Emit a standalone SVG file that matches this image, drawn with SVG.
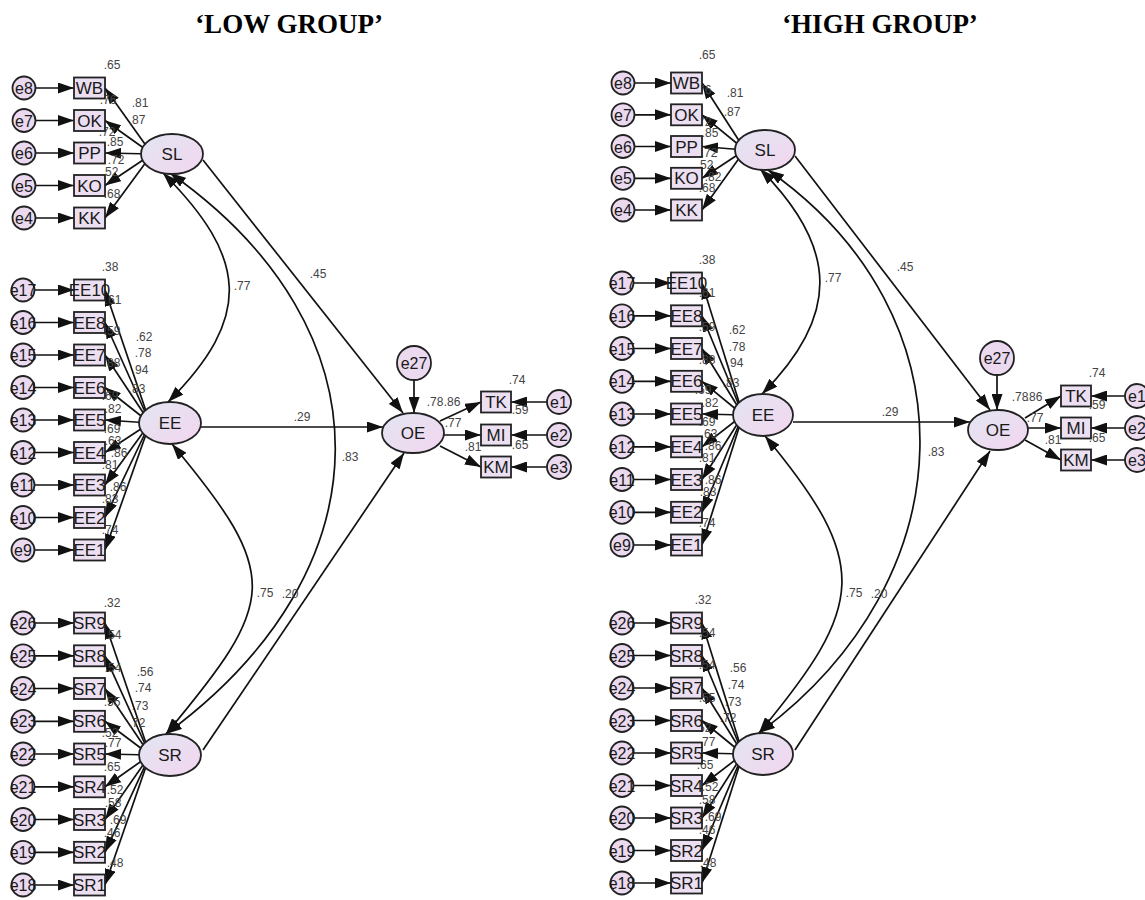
<svg xmlns="http://www.w3.org/2000/svg" width="1145" height="900" viewBox="0 0 1145 900">
<style>
.ln{stroke:#111;stroke-width:1.7;fill:none;marker-end:url(#arr)}
.cv{stroke:#111;stroke-width:1.7;fill:none;marker-start:url(#arr);marker-end:url(#arr)}
.obs{fill:#ecdff1;stroke:#222;stroke-width:1.8}
.err{fill:#ead9ef;stroke:#222;stroke-width:1.8}
.lat{fill:url(#gl);stroke:#222;stroke-width:1.8}
.tb{font-family:'Liberation Sans',Arial,sans-serif;font-size:17px;fill:#1a1a1a;text-anchor:middle}
.te{font-family:'Liberation Sans',Arial,sans-serif;font-size:16px;fill:#1a1a1a;text-anchor:middle}
.n{font-family:'Liberation Sans',Arial,sans-serif;font-size:12px;fill:#444;text-anchor:middle}
.title{font-family:'Liberation Serif','Times New Roman',serif;font-weight:bold;font-size:27px;fill:#000;text-anchor:middle}
</style>
<defs>
<marker id="arr" markerWidth="16" markerHeight="11" refX="16" refY="5.5" orient="auto-start-reverse" markerUnits="userSpaceOnUse"><path d="M0,0 L16,5.5 L0,11 z" fill="#111"/></marker>
<linearGradient id="gl" x1="0" y1="0" x2="1" y2="1"><stop offset="0" stop-color="#e2e5f1"/><stop offset="1" stop-color="#f3d6f0"/></linearGradient>
</defs>
<rect width="1145" height="900" fill="#fff"/>
<text class="title" x="289" y="33">‘LOW GROUP’</text>
<text class="title" x="880" y="33">‘HIGH GROUP’</text>

<g id="connectors">
<path class="ln" d="M35.5,88 L74,88"/><path class="ln" d="M35.5,120.5 L74,120.5"/><path class="ln" d="M35.5,153 L74,153"/><path class="ln" d="M35.5,185.5 L74,185.5"/><path class="ln" d="M35.5,218 L74,218"/>
<path class="ln" d="M35,290 L74,290"/><path class="ln" d="M35,322.5 L74,322.5"/><path class="ln" d="M35,355 L74,355"/><path class="ln" d="M35,387.5 L74,387.5"/><path class="ln" d="M35,420 L74,420"/><path class="ln" d="M35,452.5 L74,452.5"/><path class="ln" d="M35,485 L74,485"/><path class="ln" d="M35,517.5 L74,517.5"/><path class="ln" d="M35,550 L74,550"/>
<path class="ln" d="M35,623 L74,623"/><path class="ln" d="M35,655.8 L74,655.8"/><path class="ln" d="M35,688.5 L74,688.5"/><path class="ln" d="M35,721.3 L74,721.3"/><path class="ln" d="M35,754 L74,754"/><path class="ln" d="M35,786.8 L74,786.8"/><path class="ln" d="M35,819.5 L74,819.5"/><path class="ln" d="M35,852.3 L74,852.3"/><path class="ln" d="M35,885 L74,885"/>
<path class="ln" d="M152,154 L105,88"/><path class="ln" d="M152,154 L105,120.5"/><path class="ln" d="M152,154 L105,153"/><path class="ln" d="M152,154 L105,185.5"/><path class="ln" d="M152,154 L105,218"/>
<path class="ln" d="M150,423 L105,290"/><path class="ln" d="M150,423 L105,322.5"/><path class="ln" d="M150,423 L105,355"/><path class="ln" d="M150,423 L105,387.5"/><path class="ln" d="M150,423 L105,420"/><path class="ln" d="M150,423 L105,452.5"/><path class="ln" d="M150,423 L105,485"/><path class="ln" d="M150,423 L105,517.5"/><path class="ln" d="M150,423 L105,550"/>
<path class="ln" d="M150,755 L105,623"/><path class="ln" d="M150,755 L105,655.8"/><path class="ln" d="M150,755 L105,688.5"/><path class="ln" d="M150,755 L105,721.3"/><path class="ln" d="M150,755 L105,754"/><path class="ln" d="M150,755 L105,786.8"/><path class="ln" d="M150,755 L105,819.5"/><path class="ln" d="M150,755 L105,852.3"/><path class="ln" d="M150,755 L105,885"/>
<path class="ln" d="M203,160 L403,413"/>
<path class="ln" d="M201,427 L383,427"/>
<path class="ln" d="M203,750 L404,453"/>
<path class="ln" d="M414,380 L414,413"/>
<path class="cv" d="M163,173 C248,258 253,317 168,402"/>
<path class="cv" d="M170,173 C393,330 389,570 166,734"/>
<path class="cv" d="M172,444 C283,577 277,601 166,734"/>
<path class="ln" d="M440,421 L481,402"/><path class="ln" d="M444,435 L481,435"/><path class="ln" d="M440,446 L481,467"/>
<path class="ln" d="M547,402 L511,402"/><path class="ln" d="M547,435 L511,435"/><path class="ln" d="M547,467 L511,467"/>

<path class="ln" d="M634.5,83 L671,83"/><path class="ln" d="M634.5,114.8 L671,114.8"/><path class="ln" d="M634.5,146.5 L671,146.5"/><path class="ln" d="M634.5,178.3 L671,178.3"/><path class="ln" d="M634.5,210 L671,210"/>
<path class="ln" d="M634,283 L671,283"/><path class="ln" d="M634,315.8 L671,315.8"/><path class="ln" d="M634,348.5 L671,348.5"/><path class="ln" d="M634,381.3 L671,381.3"/><path class="ln" d="M634,414 L671,414"/><path class="ln" d="M634,446.8 L671,446.8"/><path class="ln" d="M634,479.5 L671,479.5"/><path class="ln" d="M634,512.3 L671,512.3"/><path class="ln" d="M634,545 L671,545"/>
<path class="ln" d="M634,623 L671,623"/><path class="ln" d="M634,655.5 L671,655.5"/><path class="ln" d="M634,688 L671,688"/><path class="ln" d="M634,720.5 L671,720.5"/><path class="ln" d="M634,753 L671,753"/><path class="ln" d="M634,785.5 L671,785.5"/><path class="ln" d="M634,818 L671,818"/><path class="ln" d="M634,850.5 L671,850.5"/><path class="ln" d="M634,883 L671,883"/>
<path class="ln" d="M745,150 L702,83"/><path class="ln" d="M745,150 L702,114.8"/><path class="ln" d="M745,150 L702,146.5"/><path class="ln" d="M745,150 L702,178.3"/><path class="ln" d="M745,150 L702,210"/>
<path class="ln" d="M743,415 L702,283"/><path class="ln" d="M743,415 L702,315.8"/><path class="ln" d="M743,415 L702,348.5"/><path class="ln" d="M743,415 L702,381.3"/><path class="ln" d="M743,415 L702,414"/><path class="ln" d="M743,415 L702,446.8"/><path class="ln" d="M743,415 L702,479.5"/><path class="ln" d="M743,415 L702,512.3"/><path class="ln" d="M743,415 L702,545"/>
<path class="ln" d="M743,754 L702,623"/><path class="ln" d="M743,754 L702,655.5"/><path class="ln" d="M743,754 L702,688"/><path class="ln" d="M743,754 L702,720.5"/><path class="ln" d="M743,754 L702,753"/><path class="ln" d="M743,754 L702,785.5"/><path class="ln" d="M743,754 L702,818"/><path class="ln" d="M743,754 L702,850.5"/><path class="ln" d="M743,754 L702,883"/>
<path class="ln" d="M795,156 L990,410"/>
<path class="ln" d="M793,422 L970,422"/>
<path class="ln" d="M795,750 L990,451"/>
<path class="ln" d="M997,375.5 L997,410"/>
<path class="cv" d="M760,169 C838.5,247.5 840.5,315.5 762,394"/>
<path class="cv" d="M768,170 C976.5,316 967.5,579 759,733"/>
<path class="cv" d="M765,436 C871.5,564 865.5,605 759,733"/>
<path class="ln" d="M1025,418 L1061,396"/><path class="ln" d="M1028,428 L1061,428"/><path class="ln" d="M1025,440 L1061,460"/>
<path class="ln" d="M1125,396 L1091,396"/><path class="ln" d="M1125,428 L1091,428"/><path class="ln" d="M1125,460 L1091,460"/>
</g>

<g id="coefficients">
<text class="n" x="318" y="278">.45</text><text class="n" x="302" y="421">.29</text><text class="n" x="290" y="598">.20</text>
<text class="n" x="242" y="290">.77</text><text class="n" x="350" y="461">.83</text><text class="n" x="265" y="597">.75</text>
<text class="n" x="112" y="69">.65</text><text class="n" x="140" y="107">.81</text><text class="n" x="137" y="124">.87</text><text class="n" x="108" y="104">.76</text><text class="n" x="115" y="146">.85</text><text class="n" x="107" y="136">.72</text><text class="n" x="116" y="164">.72</text><text class="n" x="110" y="176">.52</text><text class="n" x="112" y="198">.68</text>
<text class="n" x="110" y="271">.38</text><text class="n" x="113" y="304">.61</text><text class="n" x="112" y="335">.59</text><text class="n" x="112" y="367">.88</text><text class="n" x="110" y="400">.69</text>
<text class="n" x="144" y="341">.62</text><text class="n" x="143" y="357">.78</text><text class="n" x="140" y="374">.94</text><text class="n" x="137" y="393">.83</text>
<text class="n" x="113" y="413">.82</text><text class="n" x="112" y="433">.69</text><text class="n" x="113" y="445">.63</text><text class="n" x="119" y="457">.86</text><text class="n" x="110" y="469">.81</text><text class="n" x="118" y="491">.86</text><text class="n" x="110" y="503">.83</text><text class="n" x="110" y="534">.74</text>
<text class="n" x="112" y="607">.32</text><text class="n" x="113" y="639">.54</text><text class="n" x="113" y="672">.54</text><text class="n" x="112" y="706">.55</text><text class="n" x="110" y="737">.52</text>
<text class="n" x="145" y="676">.56</text><text class="n" x="143" y="692">.74</text><text class="n" x="140" y="710">.73</text><text class="n" x="137" y="727">.72</text>
<text class="n" x="113" y="747">.77</text><text class="n" x="112" y="771">.65</text><text class="n" x="115" y="794">.52</text><text class="n" x="113" y="807">.58</text><text class="n" x="118" y="824">.69</text><text class="n" x="112" y="837">.46</text><text class="n" x="115" y="867">.48</text>
<text class="n" x="517" y="384">.74</text><text class="n" x="520" y="414">.59</text><text class="n" x="453" y="427">.77</text><text class="n" x="473" y="451">.81</text><text class="n" x="520" y="449">.65</text><text class="n" x="435" y="406">.78</text><text class="n" x="452" y="406">.86</text>

<text class="n" x="905" y="271">.45</text><text class="n" x="890" y="416">.29</text><text class="n" x="879" y="598">.20</text>
<text class="n" x="833" y="282">.77</text><text class="n" x="936" y="456">.83</text><text class="n" x="854" y="597">.75</text>
<text class="n" x="707" y="59">.65</text><text class="n" x="735" y="97">.81</text><text class="n" x="732" y="116">.87</text><text class="n" x="703" y="94">.76</text><text class="n" x="710" y="137">.85</text><text class="n" x="703" y="126">.72</text><text class="n" x="709" y="157">.72</text><text class="n" x="705" y="169">.52</text><text class="n" x="713" y="181">.82</text><text class="n" x="707" y="192">.68</text>
<text class="n" x="707" y="264">.38</text><text class="n" x="707" y="297">.61</text><text class="n" x="707" y="331">.59</text><text class="n" x="707" y="364">.88</text><text class="n" x="703" y="394">.69</text>
<text class="n" x="737" y="334">.62</text><text class="n" x="737" y="351">.78</text><text class="n" x="735" y="367">.94</text><text class="n" x="731" y="387">.83</text>
<text class="n" x="710" y="407">.82</text><text class="n" x="707" y="426">.69</text><text class="n" x="709" y="438">.63</text><text class="n" x="713" y="450">.86</text><text class="n" x="707" y="462">.81</text><text class="n" x="713" y="484">.86</text><text class="n" x="708" y="496">.83</text><text class="n" x="707" y="527">.74</text>
<text class="n" x="703" y="604">.32</text><text class="n" x="707" y="637">.54</text><text class="n" x="707" y="669">.54</text><text class="n" x="707" y="702">.55</text><text class="n" x="703" y="732">.52</text>
<text class="n" x="738" y="672">.56</text><text class="n" x="736" y="689">.74</text><text class="n" x="733" y="706">.73</text><text class="n" x="728" y="722">.72</text>
<text class="n" x="707" y="746">.77</text><text class="n" x="705" y="769">.65</text><text class="n" x="710" y="791">.52</text><text class="n" x="707" y="804">.58</text><text class="n" x="713" y="821">.69</text><text class="n" x="707" y="834">.46</text><text class="n" x="708" y="867">.48</text>
<text class="n" x="1097" y="377">.74</text><text class="n" x="1097" y="409">.59</text><text class="n" x="1035" y="422">.77</text><text class="n" x="1053" y="444">.81</text><text class="n" x="1097" y="442">.65</text><text class="n" x="1020" y="401">.78</text><text class="n" x="1034" y="401">.86</text>
</g>

<g id="L_SL"><ellipse cx="172" cy="154" rx="31" ry="20" class="lat"/><text class="tb" x="172" y="160">SL</text></g>
<g id="L_EE"><ellipse cx="170" cy="423" rx="31" ry="21" class="lat"/><text class="tb" x="170" y="429">EE</text></g>
<g id="L_SR"><ellipse cx="170" cy="755" rx="31" ry="21" class="lat"/><text class="tb" x="170" y="761">SR</text></g>
<g id="L_OE"><ellipse cx="413" cy="433" rx="31" ry="20" class="lat"/><text class="tb" x="413" y="439">OE</text></g>
<g id="L_e27"><circle cx="414" cy="363" r="17" class="err"/><text class="te" x="414" y="369">e27</text></g>

<g id="L_WB"><rect x="74" y="77.5" width="31" height="21" class="obs"/><text class="tb" x="89.5" y="94">WB</text></g>
<g id="L_OK"><rect x="74" y="110" width="31" height="21" class="obs"/><text class="tb" x="89.5" y="126.5">OK</text></g>
<g id="L_PP"><rect x="74" y="142.5" width="31" height="21" class="obs"/><text class="tb" x="89.5" y="159">PP</text></g>
<g id="L_KO"><rect x="74" y="175" width="31" height="21" class="obs"/><text class="tb" x="89.5" y="191.5">KO</text></g>
<g id="L_KK"><rect x="74" y="207.5" width="31" height="21" class="obs"/><text class="tb" x="89.5" y="224">KK</text></g>
<g id="L_e8"><circle cx="24" cy="88" r="11.5" class="err"/><text class="te" x="24" y="94">e8</text></g>
<g id="L_e7"><circle cx="24" cy="120.5" r="11.5" class="err"/><text class="te" x="24" y="126.5">e7</text></g>
<g id="L_e6"><circle cx="24" cy="153" r="11.5" class="err"/><text class="te" x="24" y="159">e6</text></g>
<g id="L_e5"><circle cx="24" cy="185.5" r="11.5" class="err"/><text class="te" x="24" y="191.5">e5</text></g>
<g id="L_e4"><circle cx="24" cy="218" r="11.5" class="err"/><text class="te" x="24" y="224">e4</text></g>

<g id="L_EE10"><rect x="74" y="279.5" width="31" height="21" class="obs"/><text class="tb" x="89.5" y="296">EE10</text></g>
<g id="L_EE8"><rect x="74" y="312" width="31" height="21" class="obs"/><text class="tb" x="89.5" y="328.5">EE8</text></g>
<g id="L_EE7"><rect x="74" y="344.5" width="31" height="21" class="obs"/><text class="tb" x="89.5" y="361">EE7</text></g>
<g id="L_EE6"><rect x="74" y="377" width="31" height="21" class="obs"/><text class="tb" x="89.5" y="393.5">EE6</text></g>
<g id="L_EE5"><rect x="74" y="409.5" width="31" height="21" class="obs"/><text class="tb" x="89.5" y="426">EE5</text></g>
<g id="L_EE4"><rect x="74" y="442" width="31" height="21" class="obs"/><text class="tb" x="89.5" y="458.5">EE4</text></g>
<g id="L_EE3"><rect x="74" y="474.5" width="31" height="21" class="obs"/><text class="tb" x="89.5" y="491">EE3</text></g>
<g id="L_EE2"><rect x="74" y="507" width="31" height="21" class="obs"/><text class="tb" x="89.5" y="523.5">EE2</text></g>
<g id="L_EE1"><rect x="74" y="539.5" width="31" height="21" class="obs"/><text class="tb" x="89.5" y="556">EE1</text></g>
<g id="L_e17"><circle cx="23" cy="290" r="11.5" class="err"/><text class="te" x="23" y="296">e17</text></g>
<g id="L_e16"><circle cx="23" cy="322.5" r="11.5" class="err"/><text class="te" x="23" y="328.5">e16</text></g>
<g id="L_e15"><circle cx="23" cy="355" r="11.5" class="err"/><text class="te" x="23" y="361">e15</text></g>
<g id="L_e14"><circle cx="23" cy="387.5" r="11.5" class="err"/><text class="te" x="23" y="393.5">e14</text></g>
<g id="L_e13"><circle cx="23" cy="420" r="11.5" class="err"/><text class="te" x="23" y="426">e13</text></g>
<g id="L_e12"><circle cx="23" cy="452.5" r="11.5" class="err"/><text class="te" x="23" y="458.5">e12</text></g>
<g id="L_e11"><circle cx="23" cy="485" r="11.5" class="err"/><text class="te" x="23" y="491">e11</text></g>
<g id="L_e10"><circle cx="23" cy="517.5" r="11.5" class="err"/><text class="te" x="23" y="523.5">e10</text></g>
<g id="L_e9"><circle cx="23" cy="550" r="11.5" class="err"/><text class="te" x="23" y="556">e9</text></g>

<g id="L_SR9"><rect x="74" y="612.5" width="31" height="21" class="obs"/><text class="tb" x="89.5" y="629">SR9</text></g>
<g id="L_SR8"><rect x="74" y="645.3" width="31" height="21" class="obs"/><text class="tb" x="89.5" y="661.8">SR8</text></g>
<g id="L_SR7"><rect x="74" y="678" width="31" height="21" class="obs"/><text class="tb" x="89.5" y="694.5">SR7</text></g>
<g id="L_SR6"><rect x="74" y="710.8" width="31" height="21" class="obs"/><text class="tb" x="89.5" y="727.3">SR6</text></g>
<g id="L_SR5"><rect x="74" y="743.5" width="31" height="21" class="obs"/><text class="tb" x="89.5" y="760">SR5</text></g>
<g id="L_SR4"><rect x="74" y="776.3" width="31" height="21" class="obs"/><text class="tb" x="89.5" y="792.8">SR4</text></g>
<g id="L_SR3"><rect x="74" y="809" width="31" height="21" class="obs"/><text class="tb" x="89.5" y="825.5">SR3</text></g>
<g id="L_SR2"><rect x="74" y="841.8" width="31" height="21" class="obs"/><text class="tb" x="89.5" y="858.3">SR2</text></g>
<g id="L_SR1"><rect x="74" y="874.5" width="31" height="21" class="obs"/><text class="tb" x="89.5" y="891">SR1</text></g>
<g id="L_e26"><circle cx="23" cy="623" r="11.5" class="err"/><text class="te" x="23" y="629">e26</text></g>
<g id="L_e25"><circle cx="23" cy="655.8" r="11.5" class="err"/><text class="te" x="23" y="661.8">e25</text></g>
<g id="L_e24"><circle cx="23" cy="688.5" r="11.5" class="err"/><text class="te" x="23" y="694.5">e24</text></g>
<g id="L_e23"><circle cx="23" cy="721.3" r="11.5" class="err"/><text class="te" x="23" y="727.3">e23</text></g>
<g id="L_e22"><circle cx="23" cy="754" r="11.5" class="err"/><text class="te" x="23" y="760">e22</text></g>
<g id="L_e21"><circle cx="23" cy="786.8" r="11.5" class="err"/><text class="te" x="23" y="792.8">e21</text></g>
<g id="L_e20"><circle cx="23" cy="819.5" r="11.5" class="err"/><text class="te" x="23" y="825.5">e20</text></g>
<g id="L_e19"><circle cx="23" cy="852.3" r="11.5" class="err"/><text class="te" x="23" y="858.3">e19</text></g>
<g id="L_e18"><circle cx="23" cy="885" r="11.5" class="err"/><text class="te" x="23" y="891">e18</text></g>

<g id="L_TK"><rect x="481" y="391.5" width="30" height="21" class="obs"/><text class="tb" x="496" y="408">TK</text></g>
<g id="L_MI"><rect x="481" y="424.5" width="30" height="21" class="obs"/><text class="tb" x="496" y="441">MI</text></g>
<g id="L_KM"><rect x="481" y="456.5" width="30" height="21" class="obs"/><text class="tb" x="496" y="473">KM</text></g>
<g id="L_e1"><circle cx="559" cy="402" r="12" class="err"/><text class="te" x="559" y="408">e1</text></g>
<g id="L_e2"><circle cx="559" cy="435" r="12" class="err"/><text class="te" x="559" y="441">e2</text></g>
<g id="L_e3"><circle cx="559" cy="467" r="12" class="err"/><text class="te" x="559" y="473">e3</text></g>

<g id="H_SL"><ellipse cx="765" cy="150" rx="30" ry="20" class="lat"/><text class="tb" x="765" y="156">SL</text></g>
<g id="H_EE"><ellipse cx="763" cy="415" rx="30" ry="21" class="lat"/><text class="tb" x="763" y="421">EE</text></g>
<g id="H_SR"><ellipse cx="763" cy="754" rx="30" ry="21" class="lat"/><text class="tb" x="763" y="760">SR</text></g>
<g id="H_OE"><ellipse cx="998" cy="430" rx="30" ry="20" class="lat"/><text class="tb" x="998" y="436">OE</text></g>
<g id="H_e27"><circle cx="997" cy="358" r="17" class="err"/><text class="te" x="997" y="364">e27</text></g>

<g id="H_WB"><rect x="671" y="72.5" width="31" height="21" class="obs"/><text class="tb" x="686.5" y="89">WB</text></g>
<g id="H_OK"><rect x="671" y="104.3" width="31" height="21" class="obs"/><text class="tb" x="686.5" y="120.8">OK</text></g>
<g id="H_PP"><rect x="671" y="136" width="31" height="21" class="obs"/><text class="tb" x="686.5" y="152.5">PP</text></g>
<g id="H_KO"><rect x="671" y="167.8" width="31" height="21" class="obs"/><text class="tb" x="686.5" y="184.3">KO</text></g>
<g id="H_KK"><rect x="671" y="199.5" width="31" height="21" class="obs"/><text class="tb" x="686.5" y="216">KK</text></g>
<g id="H_e8"><circle cx="623" cy="83" r="11.5" class="err"/><text class="te" x="623" y="89">e8</text></g>
<g id="H_e7"><circle cx="623" cy="114.8" r="11.5" class="err"/><text class="te" x="623" y="120.8">e7</text></g>
<g id="H_e6"><circle cx="623" cy="146.5" r="11.5" class="err"/><text class="te" x="623" y="152.5">e6</text></g>
<g id="H_e5"><circle cx="623" cy="178.3" r="11.5" class="err"/><text class="te" x="623" y="184.3">e5</text></g>
<g id="H_e4"><circle cx="623" cy="210" r="11.5" class="err"/><text class="te" x="623" y="216">e4</text></g>

<g id="H_EE10"><rect x="671" y="272.5" width="31" height="21" class="obs"/><text class="tb" x="686.5" y="289">EE10</text></g>
<g id="H_EE8"><rect x="671" y="305.3" width="31" height="21" class="obs"/><text class="tb" x="686.5" y="321.8">EE8</text></g>
<g id="H_EE7"><rect x="671" y="338" width="31" height="21" class="obs"/><text class="tb" x="686.5" y="354.5">EE7</text></g>
<g id="H_EE6"><rect x="671" y="370.8" width="31" height="21" class="obs"/><text class="tb" x="686.5" y="387.3">EE6</text></g>
<g id="H_EE5"><rect x="671" y="403.5" width="31" height="21" class="obs"/><text class="tb" x="686.5" y="420">EE5</text></g>
<g id="H_EE4"><rect x="671" y="436.3" width="31" height="21" class="obs"/><text class="tb" x="686.5" y="452.8">EE4</text></g>
<g id="H_EE3"><rect x="671" y="469" width="31" height="21" class="obs"/><text class="tb" x="686.5" y="485.5">EE3</text></g>
<g id="H_EE2"><rect x="671" y="501.8" width="31" height="21" class="obs"/><text class="tb" x="686.5" y="518.3">EE2</text></g>
<g id="H_EE1"><rect x="671" y="534.5" width="31" height="21" class="obs"/><text class="tb" x="686.5" y="551">EE1</text></g>
<g id="H_e17"><circle cx="622" cy="283" r="11.5" class="err"/><text class="te" x="622" y="289">e17</text></g>
<g id="H_e16"><circle cx="622" cy="315.8" r="11.5" class="err"/><text class="te" x="622" y="321.8">e16</text></g>
<g id="H_e15"><circle cx="622" cy="348.5" r="11.5" class="err"/><text class="te" x="622" y="354.5">e15</text></g>
<g id="H_e14"><circle cx="622" cy="381.3" r="11.5" class="err"/><text class="te" x="622" y="387.3">e14</text></g>
<g id="H_e13"><circle cx="622" cy="414" r="11.5" class="err"/><text class="te" x="622" y="420">e13</text></g>
<g id="H_e12"><circle cx="622" cy="446.8" r="11.5" class="err"/><text class="te" x="622" y="452.8">e12</text></g>
<g id="H_e11"><circle cx="622" cy="479.5" r="11.5" class="err"/><text class="te" x="622" y="485.5">e11</text></g>
<g id="H_e10"><circle cx="622" cy="512.3" r="11.5" class="err"/><text class="te" x="622" y="518.3">e10</text></g>
<g id="H_e9"><circle cx="622" cy="545" r="11.5" class="err"/><text class="te" x="622" y="551">e9</text></g>

<g id="H_SR9"><rect x="671" y="612.5" width="31" height="21" class="obs"/><text class="tb" x="686.5" y="629">SR9</text></g>
<g id="H_SR8"><rect x="671" y="645" width="31" height="21" class="obs"/><text class="tb" x="686.5" y="661.5">SR8</text></g>
<g id="H_SR7"><rect x="671" y="677.5" width="31" height="21" class="obs"/><text class="tb" x="686.5" y="694">SR7</text></g>
<g id="H_SR6"><rect x="671" y="710" width="31" height="21" class="obs"/><text class="tb" x="686.5" y="726.5">SR6</text></g>
<g id="H_SR5"><rect x="671" y="742.5" width="31" height="21" class="obs"/><text class="tb" x="686.5" y="759">SR5</text></g>
<g id="H_SR4"><rect x="671" y="775" width="31" height="21" class="obs"/><text class="tb" x="686.5" y="791.5">SR4</text></g>
<g id="H_SR3"><rect x="671" y="807.5" width="31" height="21" class="obs"/><text class="tb" x="686.5" y="824">SR3</text></g>
<g id="H_SR2"><rect x="671" y="840" width="31" height="21" class="obs"/><text class="tb" x="686.5" y="856.5">SR2</text></g>
<g id="H_SR1"><rect x="671" y="872.5" width="31" height="21" class="obs"/><text class="tb" x="686.5" y="889">SR1</text></g>
<g id="H_e26"><circle cx="622" cy="623" r="11.5" class="err"/><text class="te" x="622" y="629">e26</text></g>
<g id="H_e25"><circle cx="622" cy="655.5" r="11.5" class="err"/><text class="te" x="622" y="661.5">e25</text></g>
<g id="H_e24"><circle cx="622" cy="688" r="11.5" class="err"/><text class="te" x="622" y="694">e24</text></g>
<g id="H_e23"><circle cx="622" cy="720.5" r="11.5" class="err"/><text class="te" x="622" y="726.5">e23</text></g>
<g id="H_e22"><circle cx="622" cy="753" r="11.5" class="err"/><text class="te" x="622" y="759">e22</text></g>
<g id="H_e21"><circle cx="622" cy="785.5" r="11.5" class="err"/><text class="te" x="622" y="791.5">e21</text></g>
<g id="H_e20"><circle cx="622" cy="818" r="11.5" class="err"/><text class="te" x="622" y="824">e20</text></g>
<g id="H_e19"><circle cx="622" cy="850.5" r="11.5" class="err"/><text class="te" x="622" y="856.5">e19</text></g>
<g id="H_e18"><circle cx="622" cy="883" r="11.5" class="err"/><text class="te" x="622" y="889">e18</text></g>

<g id="H_TK"><rect x="1061" y="385.5" width="30" height="21" class="obs"/><text class="tb" x="1076" y="402">TK</text></g>
<g id="H_MI"><rect x="1061" y="417.5" width="30" height="21" class="obs"/><text class="tb" x="1076" y="434">MI</text></g>
<g id="H_KM"><rect x="1061" y="449.5" width="30" height="21" class="obs"/><text class="tb" x="1076" y="466">KM</text></g>
<g id="H_e1"><circle cx="1137" cy="396" r="12" class="err"/><text class="te" x="1137" y="402">e1</text></g>
<g id="H_e2"><circle cx="1137" cy="428" r="12" class="err"/><text class="te" x="1137" y="434">e2</text></g>
<g id="H_e3"><circle cx="1137" cy="460" r="12" class="err"/><text class="te" x="1137" y="466">e3</text></g>
</svg>
